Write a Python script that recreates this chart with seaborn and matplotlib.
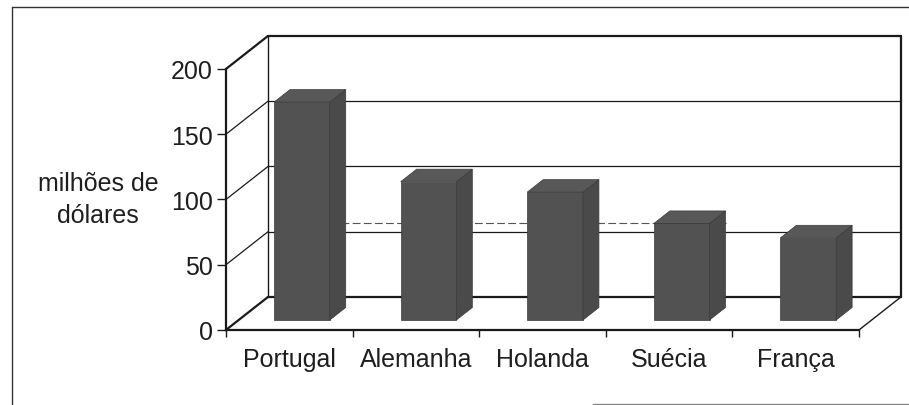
import numpy as np
import pandas as pd
import seaborn as sns
import matplotlib.pyplot as plt
import matplotlib.transforms as mtransforms
from matplotlib.patches import Polygon
from matplotlib.lines import Line2D

#dados
paises = ["Portugal", "Alemanha", "Holanda", "Suécia", "França"]
valores = [167, 106, 98, 74, 63]
ticks_y = [0, 50, 100, 150, 200]
rotulo_y = "milhões de\ndólares"

#estilo
sns.set_style("ticks")
plt.rcParams['font.family'] = ['Liberation Sans', 'DejaVu Sans']

fig = plt.figure(figsize=(9.09, 4.06), dpi=100)
ax = fig.add_axes([0, 0, 1, 1])
ax.set_facecolor("white")

df = pd.DataFrame({"pais": paises, "valor": valores})
sns.barplot(data=df, x="pais", y="valor", color="#525252", saturation=1,
            width=0.44, edgecolor="#3a3a3a", linewidth=0.5, zorder=3, ax=ax)

#profundidade (efeito 3d)
dx_w, dy_w = 0.332, 25.3
f0, f1 = 0.30, 0.68
ddx, ddy = (f1 - f0) * dx_w, (f1 - f0) * dy_w
x_max, y_max = len(paises) - 0.5, ticks_y[-1]

shift = mtransforms.Affine2D().translate(f0 * dx_w, f0 * dy_w) + ax.transData
for p in ax.patches:
    p.set_transform(shift)
    x0 = p.get_x() + f0 * dx_w
    w = p.get_width()
    y0 = f0 * dy_w
    h = p.get_height()
    lado = Polygon([(x0 + w, y0), (x0 + w, y0 + h), (x0 + w + ddx, y0 + h + ddy),
                    (x0 + w + ddx, y0 + ddy)], closed=True, facecolor="#4a4a4a",
                   edgecolor="#3a3a3a", linewidth=0.5, zorder=3)
    topo = Polygon([(x0, y0 + h), (x0 + w, y0 + h), (x0 + w + ddx, y0 + h + ddy),
                    (x0 + ddx, y0 + h + ddy)], closed=True, facecolor="#585858",
                   edgecolor="#3a3a3a", linewidth=0.5, zorder=3)
    ax.add_patch(lado)
    ax.add_patch(topo)

#parede do fundo e grade
cor = "#1a1a1a"
ax.plot([-0.5 + dx_w, x_max + dx_w], [y_max + dy_w, y_max + dy_w], color=cor, lw=1.6, zorder=1)
ax.plot([-0.5 + dx_w, x_max + dx_w], [dy_w, dy_w], color=cor, lw=1.6, zorder=1)
ax.plot([-0.5 + dx_w, -0.5 + dx_w], [dy_w, y_max + dy_w], color=cor, lw=1.0, zorder=1)
ax.plot([x_max + dx_w, x_max + dx_w], [dy_w, y_max + dy_w], color=cor, lw=1.6, zorder=1)
ax.plot([x_max, x_max + dx_w], [0, dy_w], color=cor, lw=1.0, zorder=1)
for v in ticks_y:
    lw = 1.6 if v in (0, y_max) else 0.9
    ax.plot([-0.5, -0.5 + dx_w], [v, v + dy_w], color=cor, lw=lw, zorder=1)
    if 0 < v < y_max:
        ax.plot([-0.5 + dx_w, x_max + dx_w], [v + dy_w, v + dy_w], color=cor, lw=0.9, zorder=1)

#linha tracejada
p0, p3 = ax.patches[0], ax.patches[3]
ax.plot([p0.get_x() + p0.get_width() + f0 * dx_w, p3.get_x() + p3.get_width() + f1 * dx_w],
        [valores[3] + f0 * dy_w] * 2, color="#555555", lw=0.8, dashes=(7, 3),
        zorder=2)

#eixos
ax.set_xlim(-2.285, 4.895)
ax.set_ylim(-57.5, 253.6)
ax.spines["left"].set_position(("data", -0.5))
ax.spines["left"].set_bounds(0, y_max)
ax.spines["bottom"].set_position(("data", 0))
ax.spines["bottom"].set_bounds(-0.5, x_max)
for s in ["left", "bottom"]:
    ax.spines[s].set_linewidth(1.6)
    ax.spines[s].set_color(cor)
    ax.spines[s].set_zorder(4)
ax.spines["top"].set_visible(False)
ax.spines["right"].set_visible(False)

ax.set_yticks(ticks_y)
ax.set_xticks(np.arange(-0.5, len(paises), 1), minor=True)
ax.tick_params(axis="y", direction="out", length=6.5, width=1, pad=3, labelsize=18,
               color=cor, labelcolor="#1e1e1e")
ax.tick_params(axis="x", which="major", length=0, pad=12, labelsize=18, labelcolor="#1e1e1e")
ax.tick_params(axis="x", which="minor", direction="out", length=5, width=1, color=cor)

ax.set_xlabel("")
ax.set_ylabel(rotulo_y, rotation=0, fontsize=18, ha="center", va="center",
              linespacing=1.4, color="#1e1e1e")
ax.yaxis.set_label_coords(98 / 909, 0.507)

#moldura
fig.add_artist(Line2D([12 / 909, 12 / 909], [0, 398 / 406], color="#333333", lw=1.0))
fig.add_artist(Line2D([12 / 909, 1], [398 / 406, 398 / 406], color="#333333", lw=1.0))
fig.add_artist(Line2D([593 / 909, 1], [1.5 / 406, 1.5 / 406], color="#888888", lw=1.0))

plt.savefig("out.png", dpi=100)
